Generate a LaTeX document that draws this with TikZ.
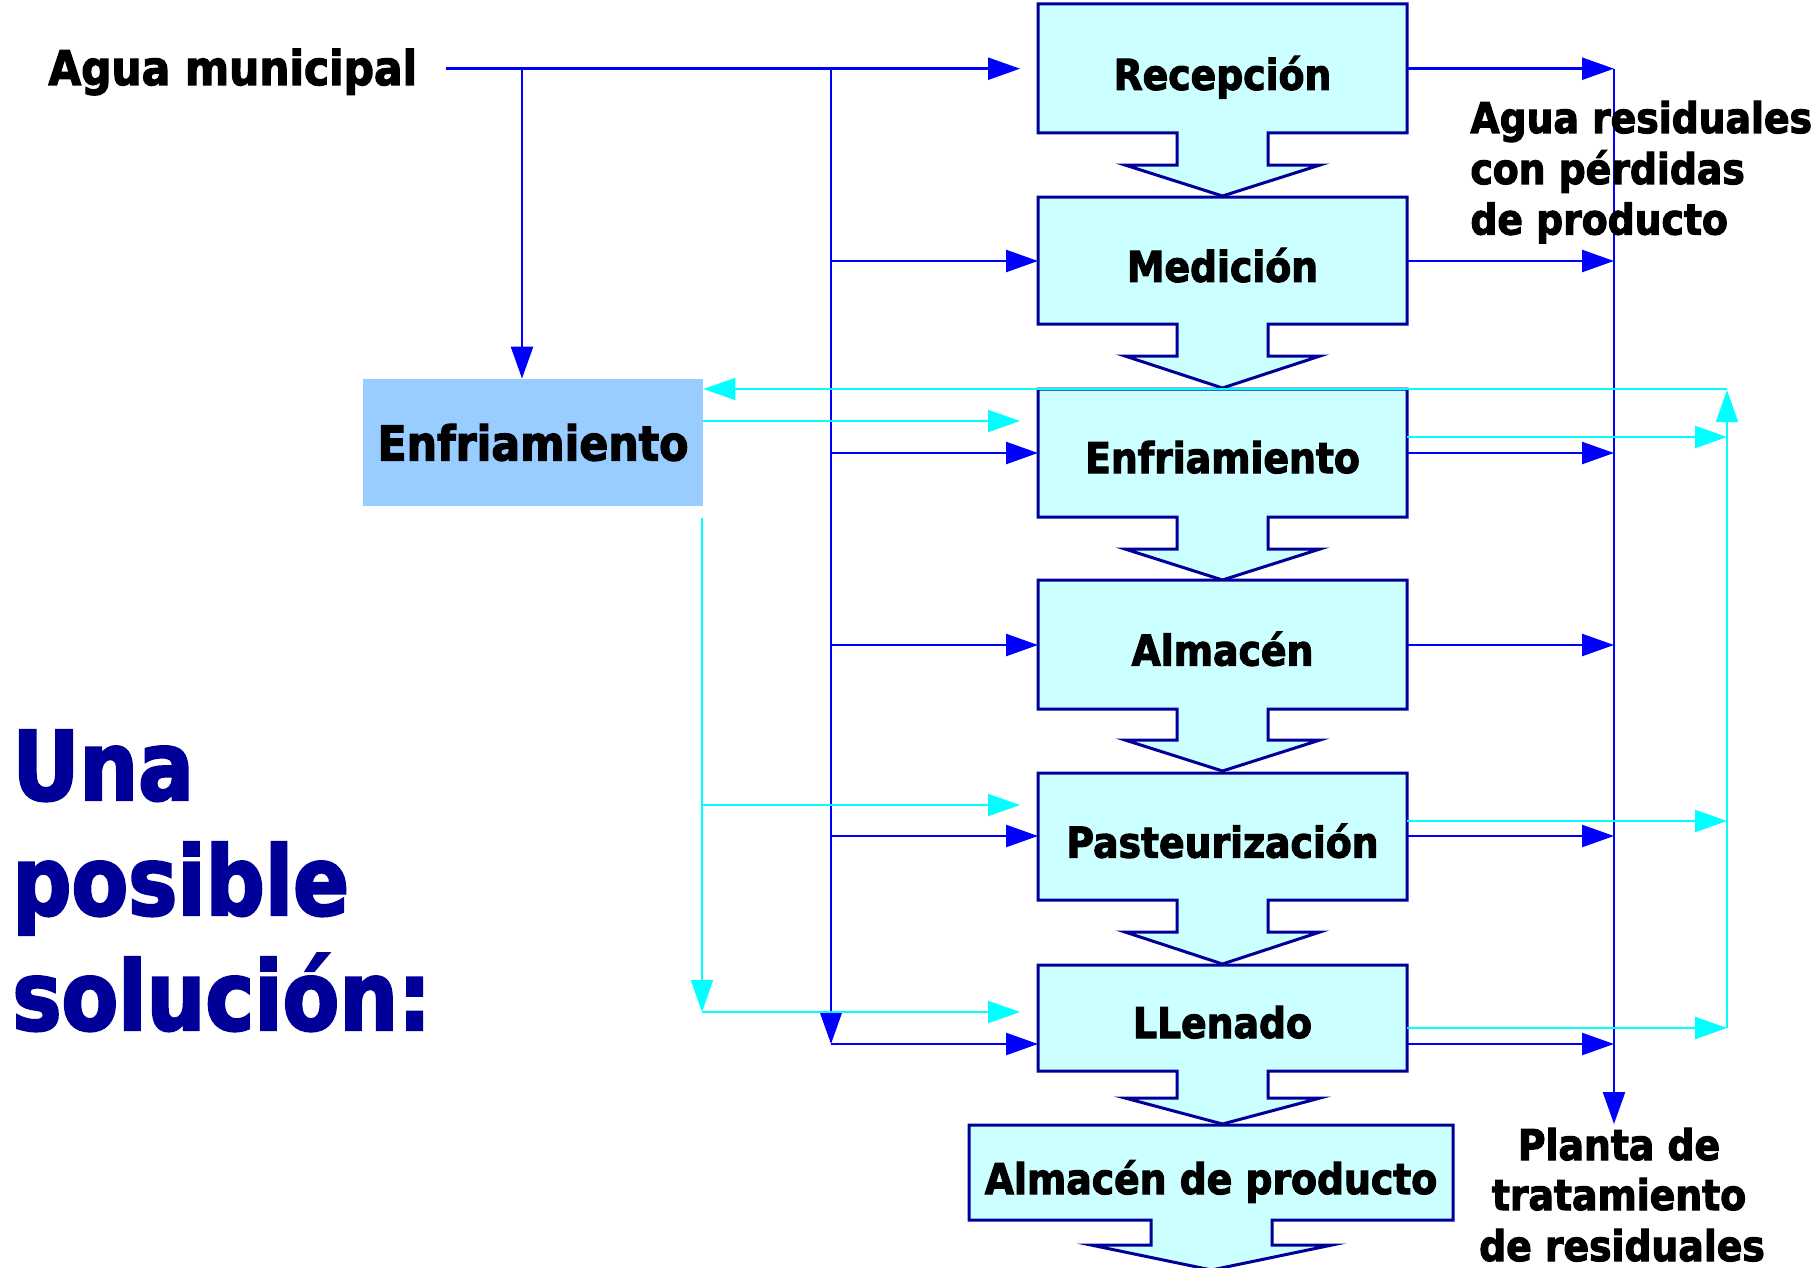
\documentclass[tikz,border=0pt]{standalone}
\usepackage{fontspec}
\newfontfamily\tah[FakeStretch=0.89,BoldFeatures={FakeBold=2.5}]{DejaVu Sans}
\newfontfamily\tahT[FakeStretch=0.86,BoldFeatures={FakeBold=2.5}]{DejaVu Sans}
\usetikzlibrary{arrows.meta}
\definecolor{boxfill}{RGB}{204,255,255}
\definecolor{boxline}{RGB}{0,0,153}
\definecolor{coolfill}{RGB}{153,204,255}
\definecolor{flowblue}{RGB}{0,0,255}
\definecolor{flowcyan}{RGB}{0,255,255}
\definecolor{titleblue}{RGB}{0,0,153}
\newcommand\downbox[6]{%
  \filldraw[procbox] (#1,#3) -- (#2,#3) -- (#2,#4) -- (\stemR,#4) -- (\stemR,#5) -- (\headR,#5)
    -- (\tipX,#6) -- (\headL,#5) -- (\stemL,#5) -- (\stemL,#4) -- (#1,#4) -- cycle;}
\begin{document}
\begin{tikzpicture}[x=0.5pt,y=-0.5pt,
  procbox/.style={fill=boxfill,draw=boxline,line width=1.5pt,line join=miter},
  area/.style={inner sep=0pt,outer sep=0pt,minimum width=184.5pt,minimum height=64.5pt},
  bl/.style={draw=flowblue,line width=1.25pt},
  cy/.style={draw=flowcyan,line width=1pt},
  tipb/.style={-{Triangle[length=16pt,width=11pt]}},
  ptext/.style={font=\tah\bfseries\fontsize{21.2}{25}\selectfont,inner sep=0pt,anchor=base},
  ltext/.style={font=\tah\bfseries\fontsize{21.2}{25}\selectfont,inner sep=0pt},
  ttext/.style={font=\tahT\bfseries\fontsize{48}{57}\selectfont,text=titleblue,inner sep=0pt,anchor=base west},
]
\useasboundingbox (0,0) rectangle (1820,1268);

% ---------- process boxes (down-arrow callouts) ----------
\def\stemL{1177}\def\stemR{1268}\def\headL{1125}\def\headR{1320}\def\tipX{1222.5}
\downbox{1038}{1407}{4}{133}{165}{196}
\downbox{1038}{1407}{197}{324}{356}{388}
\downbox{1038}{1407}{389}{517}{549}{580}
\downbox{1038}{1407}{580}{709}{740}{771}
\downbox{1038}{1407}{773}{900}{932}{964}
\downbox{1038}{1407}{965}{1071}{1098}{1124}
\def\stemL{1151}\def\stemR{1272}\def\headL{1091}\def\headR{1332}\def\tipX{1211.5}
\downbox{969}{1453}{1125}{1220}{1245}{1270}

\node[area] (rec) at (1222.5,68.5) {};
\node[area] (med) at (1222.5,260.5) {};
\node[area] (enf) at (1222.5,453) {};
\node[area] (alm) at (1222.5,644.5) {};
\node[area] (pas) at (1222.5,836.5) {};
\node[area,minimum height=53pt] (lle) at (1222.5,1018) {};
\node[area,minimum width=242pt,minimum height=47.5pt] (prod) at (1211,1172.5) {};

% left cooling box
\node[fill=coolfill,inner sep=0pt,minimum width=170pt,minimum height=63.5pt,
      font=\tah\bfseries\fontsize{24}{28}\selectfont] (cool) at (533,442.5) {Enfriamiento};

% ---------- coordinates ----------
\coordinate (s0) at (446,68.7);
\coordinate (j1) at (522,68.7);
\coordinate (j2) at (831,68.7);
\coordinate (jL) at (831,1044);
\coordinate (jm) at (831,261);
\coordinate (je) at (831,453);
\coordinate (ja) at (831,645);
\coordinate (jp) at (831,836);
\coordinate (rb) at (1614,68.7);
\coordinate (rbe) at (1614,1124);
\coordinate (cr) at (1727,389);
\coordinate (crb) at (1727,1028);
\coordinate (cl) at (702,518);
\coordinate (clb) at (702,1012);
\coordinate (clp) at (702,805);

% ---------- blue water supply ----------
\draw[bl,tipb] (s0) -- (1020,68.7) coordinate (recin);
\draw[bl,tipb] (j1) -- (j1 |- cool.north);
\draw[bl,tipb] (j2) -- (jL);
\draw[bl,tipb] (jL) -- (lle.west |- jL);
\draw[bl,tipb] (jm) -- (med.west |- jm);
\draw[bl,tipb] (je) -- (enf.west |- je);
\draw[bl,tipb] (ja) -- (alm.west |- ja);
\draw[bl,tipb] (jp) -- (pas.west |- jp);

% ---------- blue waste water ----------
\foreach \b/\yy in {rec/68.7,med/261,enf/453,alm/645,pas/836,lle/1044}{
  \draw[bl,tipb] (\b.east |- 0,\yy) -- (rb |- 0,\yy);
}
\draw[bl,tipb] (rb) -- (rbe);

% ---------- cyan cooling loop ----------
\draw[cy,tipb] (cr) -- (cool.east |- cr);
\draw[cy,tipb] (crb) -- (1727,390);
\draw[cy,tipb] (enf.east |- 0,437) -- (cr |- 0,437);
\draw[cy,tipb] (pas.east |- 0,821) -- (cr |- 0,821);
\draw[cy,tipb] (lle.east |- 0,1028) -- (crb);
\draw[cy,tipb] (cool.east |- 0,421) -- (1020,421);
\draw[cy,tipb] (cl) -- (clb);
\draw[cy,tipb] (clb) -- (1020,1012);
\draw[cy,tipb] (clp) -- (1020,805);

% ---------- texts ----------
\node[ptext] (trec) at (1222.5,89.8) {Recepción};
\node[ptext] (tmed) at (1222.5,281.8) {Medición};
\node[ptext] (tenf) at (1222.5,473) {Enfriamiento};
\node[ptext] (talm) at (1222.5,665.5) {Almacén};
\node[ptext] (tpas) at (1222.5,857.6) {Pasteurización};
\node[ptext] (tlle) at (1222.5,1038) {LLenado};
\node[ptext] (tprod) at (1211,1194) {Almacén de producto};

\node[font=\tah\bfseries\fontsize{23.8}{28}\selectfont,inner sep=0pt,anchor=base west] (aguamun) at (48,85) {Agua municipal};

\node[ltext,anchor=base west] (res1) at (1470,133) {Agua residuales};
\node[ltext,anchor=base west] (res2) at (1470,184) {con pérdidas};
\node[ltext,anchor=base west] (res3) at (1470,234.5) {de producto};

\node[ltext,anchor=base] (pl1) at (1619,1160) {Planta de};
\node[ltext,anchor=base] (pl2) at (1619,1210) {tratamiento};
\node[ltext,anchor=base] (pl3) at (1622,1261) {de residuales};

\node[ttext] (t1) at (12,800) {Una};
\node[ttext] (t2) at (12,915) {posible};
\node[ttext] (t3) at (12,1030) {solución:};
\end{tikzpicture}
\end{document}
